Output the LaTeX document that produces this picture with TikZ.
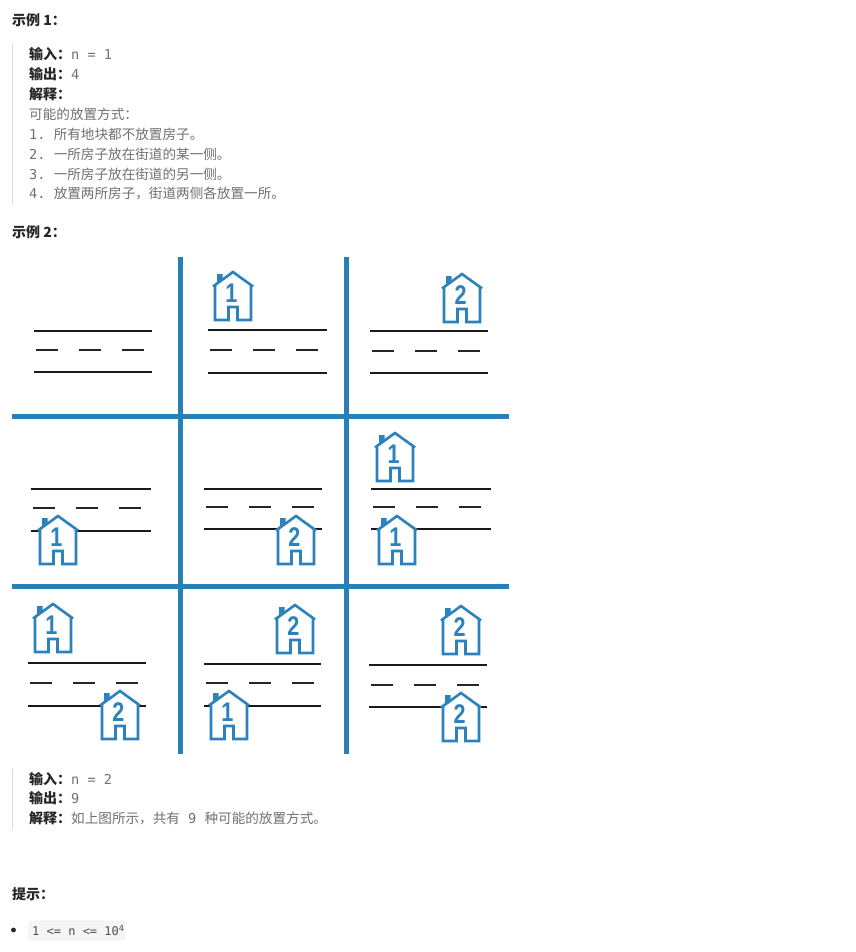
\documentclass[tikz,border=0pt]{standalone}
\usepackage{fontspec}
\setmainfont{Noto Sans CJK SC}
\setmonofont{DejaVu Sans Mono}
\newfontfamily\numfont{Liberation Sans}
\usetikzlibrary{positioning}
\definecolor{gridblue}{HTML}{2980B9}
\definecolor{housblue}{HTML}{2B82BC}
\definecolor{bodygray}{HTML}{707070}
\definecolor{headblack}{HTML}{262626}
\definecolor{quotebar}{HTML}{DDDDDD}
\newcommand{\cde}[1]{{\ttfamily\fontsize{13.6}{14}\selectfont #1}}
\newcommand{\fcolon}{\char"FF1A\relax}
\newcommand{\fcomma}{\char"FF0C\relax}
\newcommand{\lbl}[1]{{\fontsize{14}{14}\selectfont\bfseries\color{headblack}#1\fcolon}}

\begin{document}
\begin{tikzpicture}[
  x=1pt, y=-1pt,
  head/.style={anchor=base west, inner sep=0pt, text=headblack, font=\fontsize{14}{14}\selectfont\bfseries},
  txt/.style={anchor=base west, inner sep=0pt, text=bodygray, font=\fontsize{13.6}{14}\selectfont},
  road/.style={line width=1.8pt, color=black!90},
  lane/.style={line width=1.5pt, color=black!85},
  gridline/.style={line width=5pt, color=gridblue},
  bar/.style={line width=1pt, color=quotebar},
  houseline/.style={draw=housblue, fill=white, line width=2.6pt, line join=miter},
  housenum/.style={inner sep=0pt, text=housblue, xscale=.8, font=\numfont\bfseries\fontsize{27}{27}\selectfont}
]
\fill[white] (0,0) rectangle (855,952);
\useasboundingbox (0,0) rectangle (855,952);

%% ===== example 1 =====
\node[head] (ex1) at (12,26) {示例 1\fcolon};
\draw[bar] (12,44) -- (12,204);
\node[txt] (in1) at (29,60) {\lbl{输入}\cde{n = 1}};
\node[txt, below=20pt of in1.base west, anchor=base west] (out1) {\lbl{输出}\cde{4}};
\node[txt, below=20pt of out1.base west, anchor=base west] (why1) {\lbl{解释}};
\node[txt, below=20pt of why1.base west, anchor=base west] (way0) {可能的放置方式\fcolon};
\node[txt, below=20pt of way0.base west, anchor=base west] (way1) {\cde{1.\ }所有地块都不放置房子。};
\node[txt, below=19.5pt of way1.base west, anchor=base west] (way2) {\cde{2.\ }一所房子放在街道的某一侧。};
\node[txt, below=19.5pt of way2.base west, anchor=base west] (way3) {\cde{3.\ }一所房子放在街道的另一侧。};
\node[txt, below=19.5pt of way3.base west, anchor=base west] (way4) {\cde{4.\ }放置两所房子\fcomma 街道两侧各放置一所。};

%% ===== example 2 =====
\node[head] (ex2) at (12,237) {示例 2\fcolon};

% roads: x from, x to, top, lanes, bottom
\foreach \xa/\xb/\ya/\yb/\yc in {34/152/331/350/372, 208/327/330/350/373, 370/488/331/351/373,
    31/151/489/508/531, 204/322/489/507/529, 371/491/489/507/529,
    28/146/663/683/706, 204/321/664/683/706, 369/487/665/685/707} {
  \draw[road] (\xa,\ya) -- (\xb,\ya);
  \draw[road] (\xa,\yc) -- (\xb,\yc);
  \foreach \d in {0,43,86}
    \draw[lane] (\xa+2+\d,\yb) -- (\xa+24+\d,\yb);
}

% grid
\draw[gridline] (180,257) -- (180,754);
\draw[gridline] (346,257) -- (346,754);
\draw[gridline] (12,416) -- (509,416);
\draw[gridline] (12,586) -- (509,586);

% houses
\foreach \hx/\hy/\num/\nm in {233/272/1/ha, 462/274/2/hb, 58/516/1/hc, 296/516/2/hd, 395/433/1/he,
    397/516/1/hf, 53/604/1/hg, 120/691/2/hh, 295/605/2/hi, 229/691/1/hj, 461/606/2/hk, 461/693/2/hl} {
  \begin{scope}[shift={(\hx,\hy)}]
    \draw[houseline] (-18,48) -- (-18,13) -- (-20,14.5) -- (0,0) -- (20,14.5) -- (18,13) -- (18,48)
      -- (4.5,48) -- (4.5,35) -- (-4.5,35) -- (-4.5,48) -- cycle;
    \fill[housblue] (-16,2) -- (-10.5,2) -- (-10.5,8) -- (-16,12) -- cycle;
    \node[housenum] (\nm) at (-1.5,21) {\num};
  \end{scope}
}

\draw[bar] (12,769) -- (12,830);
\node[txt] (in2) at (29,784) {\lbl{输入}\cde{n = 2}};
\node[txt, below=19.5pt of in2.base west, anchor=base west] (out2) {\lbl{输出}\cde{9}};
\node[txt, below=20pt of out2.base west, anchor=base west] (why2) {\lbl{解释}如上图所示\fcomma 共有\cde{\ 9\ }种可能的放置方式。};

%% ===== hint =====
\node[head] (hint) at (12,899) {提示\fcolon};
\fill[headblack] (13.5,930) circle (2.4pt);
\node[draw=black!8, fill=black!4, rounded corners=3pt, inner sep=0pt, minimum width=96pt, minimum height=19pt, anchor=west] (pill) at (28.5,930.5) {};
\node[anchor=base west, inner sep=0pt, text=black!70, font=\ttfamily\fontsize{12}{12}\selectfont] (bound) at (32,935)
  {1 <= n <= 10\raisebox{4pt}{\fontsize{8.5}{9}\selectfont 4}};
\end{tikzpicture}
\end{document}
